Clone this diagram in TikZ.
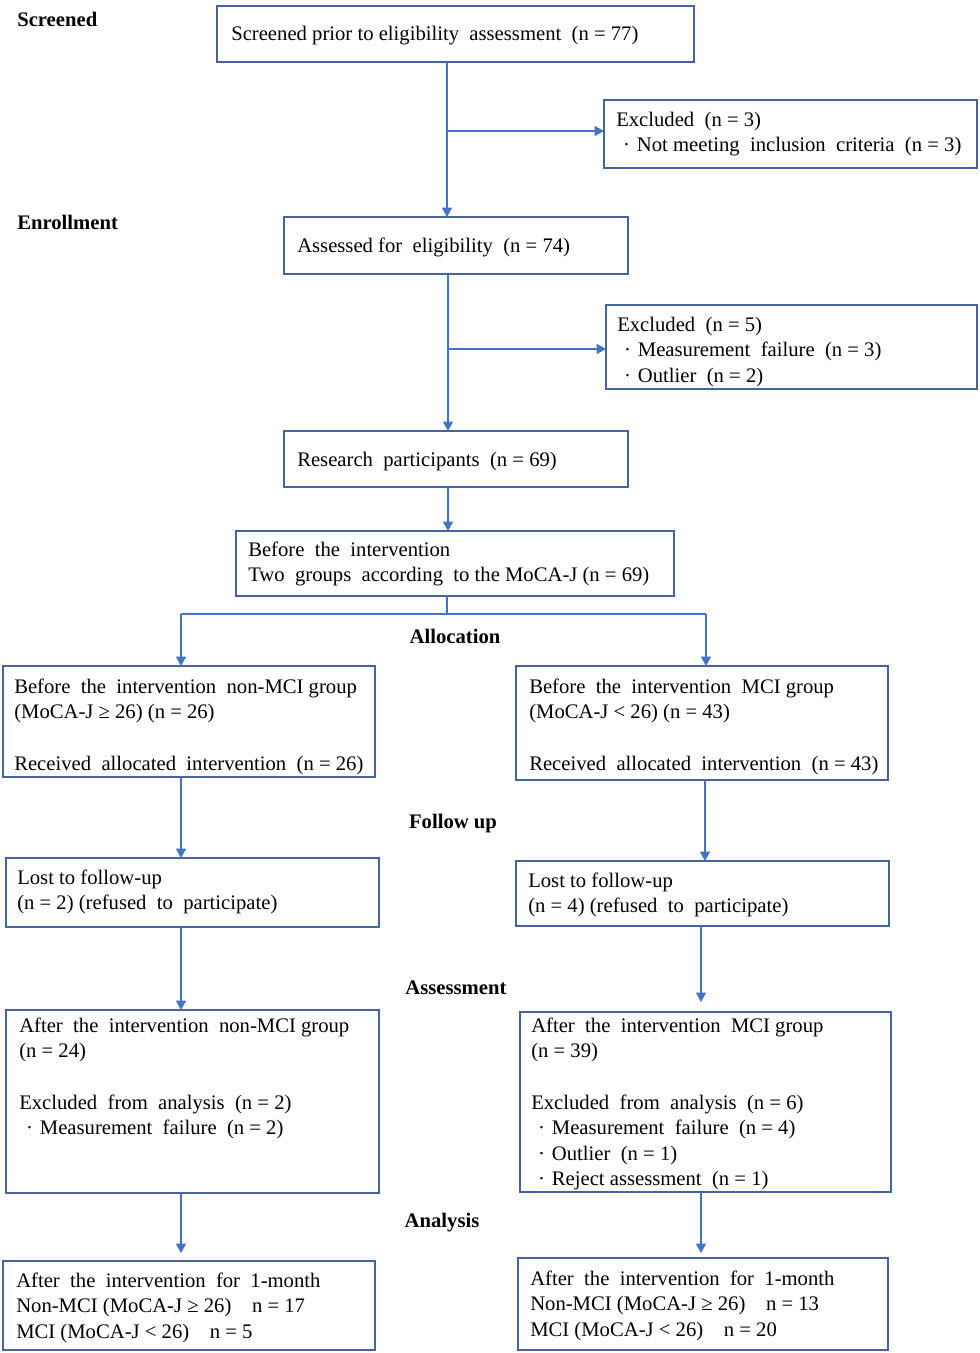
\documentclass[tikz,border=0pt]{standalone}
\usepackage{fontspec}
\setmainfont{Liberation Serif}
\usetikzlibrary{arrows.meta}
\definecolor{ln}{RGB}{68,114,196}
\definecolor{bd}{RGB}{70,100,160}
\newcommand\bul{\makebox[1em][c]{·}}
\newcommand\mkbox[5]{\node[boxst, minimum width={(#4-#2)*0.75pt}, minimum height={(#5-#3)*0.75pt}] (#1) at (#2,#3) {};}
\newcommand\mktext[4]{\node[txt] (#1) at (#2,{#3-17.9}) {\strut #4};}
\tikzset{
  boxst/.style={draw=bd, line width=1.1pt, anchor=north west, inner sep=0pt, outer sep=0pt},
  txt/.style={anchor=north west, inner sep=0pt, align=left, font=\fontsize{15.5}{19.2}\selectfont},
  head/.style={inner sep=0pt, font=\fontsize{15.5}{19.2}\selectfont\bfseries},
  conn/.style={draw=ln, line width=1pt},
  arr/.style={conn, -{Triangle[length=7pt,width=7.5pt]}}
}
\begin{document}
\begin{tikzpicture}[x=0.75pt,y=-0.75pt]
\useasboundingbox (0,0) rectangle (980,1353);
% headings
\node[head, anchor=base west] (hs) at (17,26) {Screened};
\node[head, anchor=base west] (he) at (17,229) {Enrollment};
\node[head, anchor=base] (ha) at (455,643) {Allocation};
\node[head, anchor=base] (hf) at (453,828) {Follow up};
\node[head, anchor=base] (hx) at (456,994) {Assessment};
\node[head, anchor=base] (hn) at (442,1227) {Analysis};
% boxes
\mkbox{b1}{217}{6}{694}{62}
\mkbox{e1}{604}{100}{977}{168}
\mkbox{b2}{284}{217}{628}{274}
\mkbox{e2}{606}{305}{977}{389}
\mkbox{b3}{284}{431}{628}{487}
\mkbox{b4}{236}{531}{674}{596}
\mkbox{l1}{3}{666}{375}{777}
\mkbox{r1}{516}{666}{888}{780}
\mkbox{l2}{6}{858}{379}{927}
\mkbox{r2}{516}{861}{889}{926}
\mkbox{l3}{6}{1010}{379}{1193}
\mkbox{r3}{520}{1012}{891}{1192}
\mkbox{l4}{3}{1261}{375}{1350}
\mkbox{r4}{518}{1258}{888}{1350}
% texts
\mktext{t1}{231}{40}{Screened prior to eligibility\ \ assessment\ \ (n = 77)}
\mktext{te1}{616}{126}{Excluded\ \ (n = 3)\\\bul Not meeting\ \ inclusion\ \ criteria\ \ (n = 3)}
\mktext{t2}{297}{252}{Assessed for\ \ eligibility\ \ (n = 74)}
\mktext{te2}{617}{331}{Excluded\ \ (n = 5)\\\bul Measurement\ \ failure\ \ (n = 3)\\\bul Outlier\ \ (n = 2)}
\mktext{t3}{297}{466}{Research\ \ participants\ \ (n = 69)}
\mktext{t4}{248}{556}{Before\ \ the\ \ intervention\\Two\ \ groups\ \ according\ \ to the MoCA-J (n = 69)}
\mktext{tl1}{14}{693}{Before\ \ the\ \ intervention\ \ non-MCI group\\(MoCA-J ≥ 26) (n = 26)\\[19.2pt]Received\ \ allocated\ \ intervention\ \ (n = 26)}
\mktext{tr1}{529}{693}{Before\ \ the\ \ intervention\ \ MCI group\\(MoCA-J < 26) (n = 43)\\[19.2pt]Received\ \ allocated\ \ intervention\ \ (n = 43)}
\mktext{tl2}{17}{884}{Lost to follow-up\\(n = 2)\ (refused\ \ to\ \ participate)}
\mktext{tr2}{528}{887}{Lost to follow-up\\(n = 4)\ (refused\ \ to\ \ participate)}
\mktext{tl3}{19}{1032}{After\ \ the\ \ intervention\ \ non-MCI group\\(n = 24)\\[19.2pt]Excluded\ \ from\ \ analysis\ \ (n = 2)\\\bul Measurement\ \ failure\ \ (n = 2)}
\mktext{tr3}{531}{1032}{After\ \ the\ \ intervention\ \ MCI group\\(n = 39)\\[19.2pt]Excluded\ \ from\ \ analysis\ \ (n = 6)\\\bul Measurement\ \ failure\ \ (n = 4)\\\bul Outlier\ \ (n = 1)\\\bul Reject\ assessment\ \ (n = 1)}
\mktext{tl4}{16}{1287}{After\ \ the\ \ intervention\ \ for\ \ 1-month\\Non-MCI (MoCA-J ≥ 26)\ \ \ \ n = 17\\MCI (MoCA-J < 26)\ \ \ \ n = 5}
\mktext{tr4}{530}{1285}{After\ \ the\ \ intervention\ \ for\ \ 1-month\\Non-MCI (MoCA-J ≥ 26)\ \ \ \ n = 13\\MCI (MoCA-J < 26)\ \ \ \ n = 20}
% connectors
\coordinate (v1) at (447,131);
\draw[arr] (v1 |- b1.south) -- (v1 |- b2.north);
\draw[arr] (v1) -- (v1 -| e1.west);
\coordinate (v2) at (448,349);
\draw[arr] (v2 |- b2.south) -- (v2 |- b3.north);
\draw[arr] (v2) -- (v2 -| e2.west);
\coordinate (v3) at (448,509);
\draw[arr] (v3 |- b3.south) -- (v3 |- b4.north);
\coordinate (sp) at (447,614);
\coordinate (spL) at (181,614);
\coordinate (spR) at (706,614);
\draw[conn] (sp |- b4.south) -- (sp);
\draw[conn] (spL) -- (spR);
\draw[arr] (spL) -- (spL |- l1.north);
\draw[arr] (spR) -- (spR |- r1.north);
\coordinate (cL) at (181,800);
\coordinate (cR) at (705,800);
\draw[arr] (cL |- l1.south) -- (cL |- l2.north);
\draw[arr] (cR |- r1.south) -- (cR |- r2.north);
\coordinate (dL) at (181,960);
\coordinate (dR) at (701,1002);
\draw[arr] (dL |- l2.south) -- (dL |- l3.north);
\draw[arr] (dR |- r2.south) -- (dR);
\coordinate (eL) at (181,1253);
\coordinate (eR) at (701,1253);
\draw[arr] (eL |- l3.south) -- (eL);
\draw[arr] (eR |- r3.south) -- (eR);
\end{tikzpicture}
\end{document}
